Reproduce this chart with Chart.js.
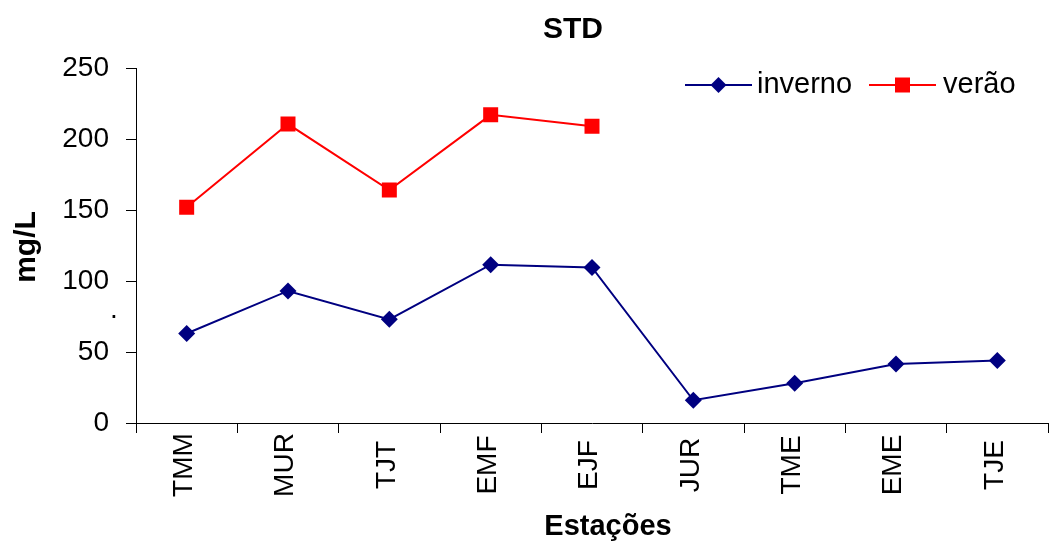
<!DOCTYPE html>
<html>
<head>
<meta charset="utf-8">
<script src="https://cdn.jsdelivr.net/npm/chart.js@4.4.1/dist/chart.umd.min.js"></script>
<style>
  html, body { margin: 0; padding: 0; background: #ffffff; }
  canvas { display: block; }
</style>
</head>
<body>
<canvas id="c" width="1049" height="542"></canvas>
<script>
// Stations and STD readings (mg/L)
const categories = ['TMM', 'MUR', 'TJT', 'EMF', 'EJF', 'JUR', 'TME', 'EME', 'TJE'];
const inverno = [63, 93, 73, 111.5, 109.5, 16, 28, 41.5, 44];
const verao = [152, 210.5, 164, 217, 209, null, null, null, null];
const yTicks = [0, 50, 100, 150, 200, 250];
const seriesNames = ['inverno', 'verão'];
const chartTitle = 'STD';
const xTitle = 'Estações';
const yTitle = 'mg/L';

const FONT = '"Liberation Sans", Arial, sans-serif';
const NAVY = '#000080';
const RED = '#ff0000';

// Titles, rotated category labels and the legend row, drawn on top of the chart
const decorations = {
  id: 'decorations',
  afterDraw(chart) {
    const ctx = chart.ctx;
    const x = chart.scales.x;
    ctx.save();
    ctx.fillStyle = '#000';

    // chart title
    ctx.font = 'bold 30px ' + FONT;
    ctx.textAlign = 'center';
    ctx.textBaseline = 'alphabetic';
    ctx.fillText(chartTitle, 573, 38);

    // x axis title
    ctx.font = 'bold 29px ' + FONT;
    ctx.fillText(xTitle, 608, 535);

    // y axis title
    ctx.save();
    ctx.translate(27, 247);
    ctx.rotate(-Math.PI / 2);
    ctx.font = 'bold 30px ' + FONT;
    ctx.textBaseline = 'middle';
    ctx.fillText(yTitle, 0, 0);
    ctx.restore();

    // stray mark beside the value axis
    ctx.font = '28px ' + FONT;
    ctx.textAlign = 'left';
    ctx.fillText('.', 110, 318);

    // category labels, rotated and centred below the axis
    ctx.font = '28px ' + FONT;
    ctx.textAlign = 'center';
    ctx.textBaseline = 'middle';
    categories.forEach((label, i) => {
      const px = x.getPixelForValue(i);
      ctx.save();
      ctx.translate(px - 2.5, 465);
      ctx.rotate(-Math.PI / 2);
      ctx.fillText(label, 0, 0);
      ctx.restore();
    });

    // legend
    const ly = 85;
    const items = [
      { name: seriesNames[0], color: NAVY, x0: 685, x1: 752, tx: 757, shape: 'diamond' },
      { name: seriesNames[1], color: RED, x0: 869, x1: 936, tx: 943, shape: 'square' }
    ];
    items.forEach(it => {
      ctx.strokeStyle = it.color;
      ctx.lineWidth = 2;
      ctx.beginPath();
      ctx.moveTo(it.x0, ly);
      ctx.lineTo(it.x1, ly);
      ctx.stroke();
      const cx = (it.x0 + it.x1) / 2;
      ctx.fillStyle = it.color;
      ctx.beginPath();
      if (it.shape === 'diamond') {
        ctx.moveTo(cx, ly - 8);
        ctx.lineTo(cx + 8, ly);
        ctx.lineTo(cx, ly + 8);
        ctx.lineTo(cx - 8, ly);
        ctx.closePath();
      } else {
        ctx.rect(cx - 7.5, ly - 7.5, 15, 15);
      }
      ctx.fill();
      ctx.fillStyle = '#000';
      ctx.font = '29px ' + FONT;
      ctx.textAlign = 'left';
      ctx.textBaseline = 'alphabetic';
      ctx.fillText(it.name, it.tx, 93);
    });
    ctx.restore();
  }
};

new Chart(document.getElementById('c'), {
  type: 'line',
  data: {
    labels: categories,
    datasets: [
      {
        label: seriesNames[0],
        data: inverno,
        borderColor: NAVY,
        backgroundColor: NAVY,
        borderWidth: 2,
        pointStyle: 'rectRot',
        pointRadius: 8.5,
        pointBorderWidth: 0,
        pointBackgroundColor: NAVY,
        tension: 0,
        spanGaps: false
      },
      {
        label: seriesNames[1],
        data: verao,
        borderColor: RED,
        backgroundColor: RED,
        borderWidth: 2,
        pointStyle: 'rect',
        pointRadius: 10.6,
        pointBorderWidth: 0,
        pointBackgroundColor: RED,
        tension: 0,
        spanGaps: false
      }
    ]
  },
  options: {
    responsive: false,
    devicePixelRatio: 1,
    animation: false,
    layout: { autoPadding: false, padding: { top: 68, right: 1, left: 0, bottom: 0 } },
    plugins: {
      legend: { display: false },
      title: { display: false },
      tooltip: { enabled: false }
    },
    scales: {
      x: {
        type: 'category',
        offset: true,
        grid: {
          offset: true,
          drawOnChartArea: false,
          drawTicks: true,
          tickLength: 10,
          color: '#000'
        },
        border: { display: true, color: '#000', width: 1 },
        ticks: { display: false },
        afterFit(scale) { scale.height = 119; }
      },
      y: {
        min: 0,
        max: 250,
        afterBuildTicks(scale) { scale.ticks = yTicks.map(v => ({ value: v })); },
        grid: {
          drawOnChartArea: false,
          drawTicks: true,
          tickLength: 10,
          color: '#000'
        },
        border: { display: true, color: '#000', width: 1 },
        ticks: {
          padding: 17,
          color: '#000',
          font: { family: FONT, size: 28 }
        },
        afterFit(scale) { scale.width = 136; }
      }
    }
  },
  plugins: [decorations]
});
</script>
</body>
</html>
